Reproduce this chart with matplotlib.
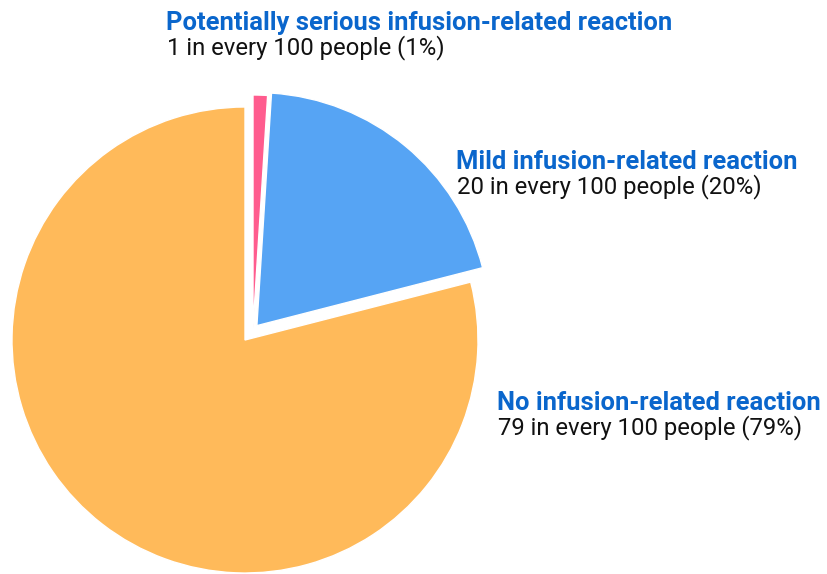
import matplotlib
matplotlib.use("Agg")
import matplotlib.pyplot as plt

categories = ["Potentially serious infusion-related reaction",
              "Mild infusion-related reaction",
              "No infusion-related reaction"]
values = [1, 20, 79]
detail = ["1 in every 100 people (1%)",
          "20 in every 100 people (20%)",
          "79 in every 100 people (79%)"]
colors = ["#FF5C8E", "#56A4F4", "#FFBA5A"]

W, H = 827, 574
R = 233.0
cx, cy = 245.0, 340.0  # pixel centre (from top)

fig = plt.figure(figsize=(W / 100, H / 100), dpi=100)
ax = fig.add_axes([0, 0, 1, 1])
wedges, _ = ax.pie(values, colors=colors, startangle=90, counterclock=False,
                   explode=[0.0, 0.08, 0.0], radius=1.0,
                   wedgeprops=dict(edgecolor="white", linewidth=1.0))
# shift the small slice
wedges[0].set_center((8 / R, 12 / R))
ax.set_xlim(-cx / R, (W - cx) / R)
ax.set_ylim(-(H - cy) / R, cy / R)
ax.set_aspect("equal", adjustable="box")
ax.axis("off")

label_pos = [(166, 30, 54), (456, 169, 193), (497, 410, 434)]
for name, det, (x, yb1, yb2) in zip(categories, detail, label_pos):
    fig.text(x / W, 1 - yb1 / H, name, fontfamily="Roboto", fontweight="bold",
             fontsize=18.4, color="#0A66CC", va="baseline", ha="left")
    fig.text((x + 1) / W, 1 - yb2 / H, det, fontfamily="Roboto",
             fontsize=17.2, color="#111111", va="baseline", ha="left")

fig.savefig("out.png", dpi=100)
